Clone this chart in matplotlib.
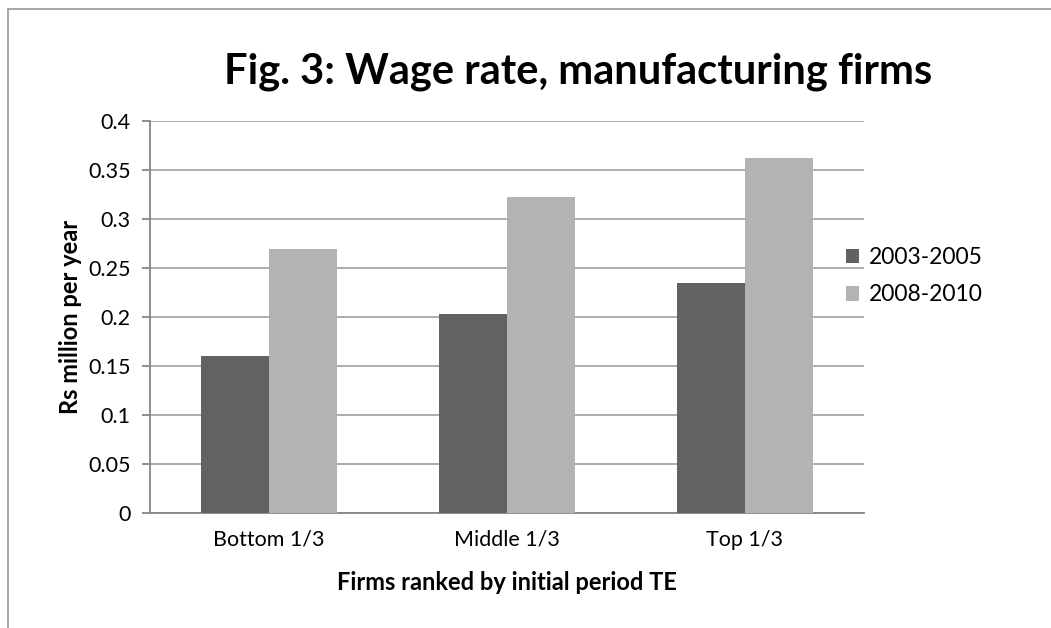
import numpy as np
import matplotlib
matplotlib.use("Agg")
import matplotlib.pyplot as plt
from matplotlib.lines import Line2D

plt.rcParams['font.family'] = ['Lato', 'DejaVu Sans']

categories = ["Bottom 1/3", "Middle 1/3", "Top 1/3"]
series_names = ["2003-2005", "2008-2010"]
wage_2003_2005 = [0.1605, 0.203, 0.235]
wage_2008_2010 = [0.269, 0.3225, 0.362]
yticks = [0, 0.05, 0.1, 0.15, 0.2, 0.25, 0.3, 0.35, 0.4]
ytick_labels = ["0", "0.05", "0.1", "0.15", "0.2", "0.25", "0.3", "0.35", "0.4"]

dark = "#626262"
light = "#b3b3b3"
grid_col = "#a6a6a6"
axis_col = "#868686"

fig = plt.figure(figsize=(10.51, 6.28), dpi=100)
ax = fig.add_axes([0.1427, 0.1831, 0.822 - 0.1427, 0.8073 - 0.1831])

x = np.arange(len(categories))
w = 1 / 3.5
ax.bar(x - w / 2, wage_2003_2005, width=w, color=dark, label=series_names[0], zorder=3)
ax.bar(x + w / 2, wage_2008_2010, width=w, color=light, label=series_names[1], zorder=3)

ax.set_xlim(-0.5, 2.5)
ax.set_ylim(0, 0.4)
ax.set_yticks(yticks)
ax.set_yticklabels(ytick_labels, fontsize=15.5)
ax.set_xticks(x)
ax.set_xticklabels(categories, fontsize=15.5)
ax.yaxis.grid(True, color=grid_col, linewidth=1.3, zorder=0)
ax.set_axisbelow(True)

for s in ["top", "right"]:
    ax.spines[s].set_visible(False)
ax.spines["left"].set_color(axis_col)
ax.spines["left"].set_linewidth(1.3)
ax.spines["bottom"].set_color(axis_col)
ax.spines["bottom"].set_linewidth(1.3)
ax.tick_params(axis="y", length=6, width=1.3, color=axis_col, pad=8)
ax.tick_params(axis="x", length=0, pad=12)

ax.set_ylabel("Rs million per year", fontsize=17, fontweight="bold", labelpad=4)
ax.set_xlabel("Firms ranked by initial period TE", fontsize=17, fontweight="bold", labelpad=15)

fig.text(0.55, 0.885, "Fig. 3: Wage rate, manufacturing firms", fontsize=30,
         fontweight="bold", ha="center", va="center")

leg = fig.legend(loc="center left", bbox_to_anchor=(0.785, 0.56), frameon=False,
                 fontsize=16.5, handlelength=0.6, handleheight=0.6,
                 handletextpad=0.4, labelspacing=0.7)

# chart frame (cropped: only top and left edges visible)
fig.add_artist(Line2D([8 / 1051, 1], [1 - 9 / 628, 1 - 9 / 628], color="#a0a0a0", linewidth=1.3))
fig.add_artist(Line2D([8 / 1051, 8 / 1051], [0, 1 - 9 / 628], color="#a0a0a0", linewidth=1.3))

fig.savefig("out.png", dpi=100)
